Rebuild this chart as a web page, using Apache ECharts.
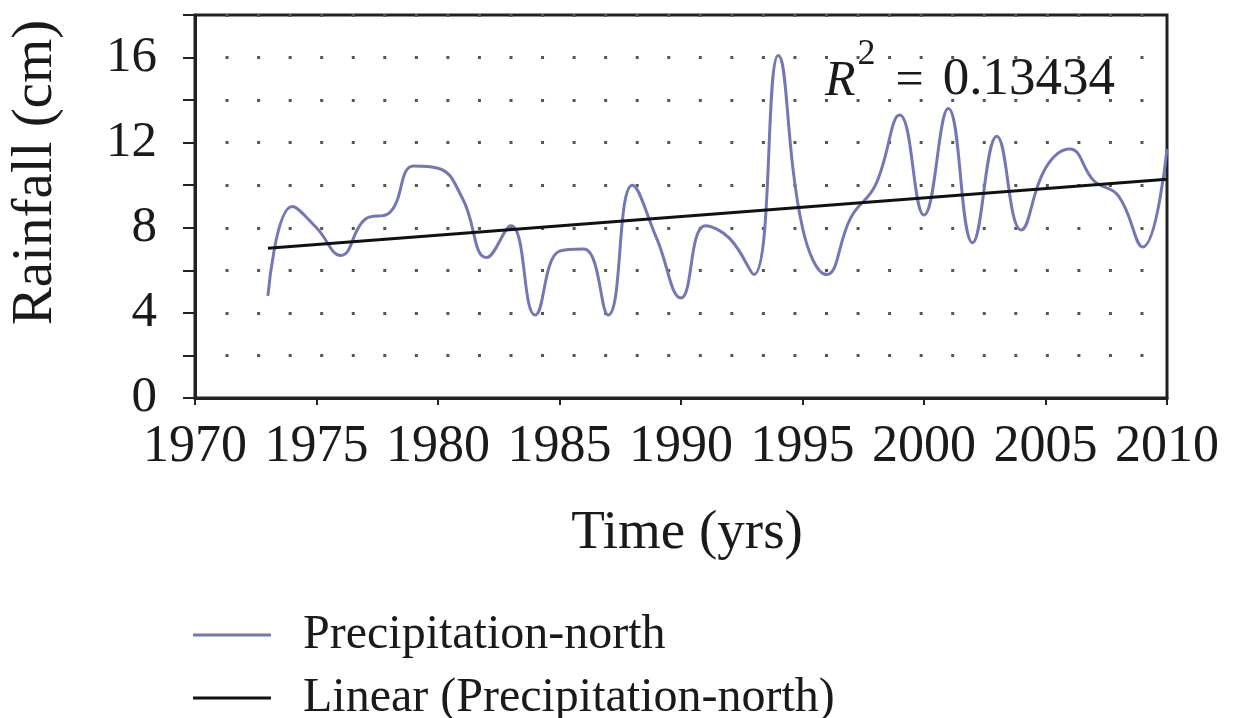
<!DOCTYPE html>
<html>
<head>
<meta charset="utf-8">
<script src="https://cdn.jsdelivr.net/npm/echarts@6/dist/echarts.min.js"></script>
<style>
html,body{margin:0;padding:0;background:#fff;}
#chart{width:1252px;height:718px;}
</style>
</head>
<body>
<div id="chart"></div>
<script>
// Data
var years = [1973,1974,1975,1976,1977,1978,1979,1980,1981,1982,1983,1984,1985,1986,1987,1988,1989,1990,1991,1992,1993,1994,1995,1996,1997,1998,1999,2000,2001,2002,2003,2004,2005,2006,2007,2008,2009,2010];
var rainfallNorth = [4.8,9.0,8.0,6.7,8.4,8.7,10.9,10.8,9.4,6.6,8.1,3.9,6.9,7.0,3.9,10.0,7.5,4.7,8.1,7.5,5.8,16.1,8.0,5.8,8.5,10.0,13.3,8.6,13.6,7.3,12.3,7.9,10.8,11.7,10.2,9.5,7.1,11.7];
var xTicks = [1970,1975,1980,1985,1990,1995,2000,2005,2010];
var yTicks = [0,4,8,12,16];
var seriesNames = ['Precipitation-north','Linear (Precipitation-north)'];
var r2Text = '0.13434';

// least-squares trend line computed from the data
var n = years.length, sx = 0, sy = 0, sxx = 0, sxy = 0;
for (var i = 0; i < n; i++) { sx += years[i]; sy += rainfallNorth[i]; sxx += years[i]*years[i]; sxy += years[i]*rainfallNorth[i]; }
var slope = (n*sxy - sx*sy) / (n*sxx - sx*sx);
var intercept = (sy - slope*sx) / n;
var trendData = [years[0], years[n-1]].map(function (x) { return [x, intercept + slope*x]; });
var lineData = years.map(function (y, i) { return [y, rainfallNorth[i]]; });

var FONT = 'Liberation Serif';
var TXT = '#1a1a1a';
var chart = echarts.init(document.getElementById('chart'));
chart.setOption({
  backgroundColor: '#ffffff',
  animation: false,
  textStyle: { fontFamily: FONT, color: TXT },
  grid: { left: 193, right: 85, top: 15, bottom: 320, show: true, borderColor: '#222', borderWidth: 3 },
  xAxis: {
    type: 'value', min: xTicks[0], max: xTicks[xTicks.length-1], interval: 5,
    name: 'Time (yrs)', nameLocation: 'middle', nameGap: 108,
    nameTextStyle: { fontFamily: FONT, fontSize: 55, color: TXT, padding: [0, 0, 0, 12] },
    axisLine: { show: true, lineStyle: { color: '#222', width: 3 } },
    axisTick: { show: true, inside: false, length: 7, lineStyle: { color: '#222', width: 2 } },
    axisLabel: { fontFamily: FONT, fontSize: 52, color: TXT, margin: 23,
      formatter: function (v) { return xTicks.indexOf(v) >= 0 ? String(v) : ''; } },
    splitLine: { show: false }
  },
  yAxis: {
    type: 'value', min: 0, max: 18, interval: 2,
    name: 'Rainfall (cm)', nameLocation: 'middle', nameGap: 130,
    nameTextStyle: { fontFamily: FONT, fontSize: 57, color: TXT, padding: [0, 0, 0, 68] },
    axisLine: { show: true, lineStyle: { color: '#222', width: 3 } },
    axisTick: { show: true, inside: false, length: 12, lineStyle: { color: '#222', width: 2 } },
    axisLabel: { fontFamily: FONT, fontSize: 51, color: TXT, margin: 38,
      formatter: function (v) { return yTicks.indexOf(v) >= 0 ? String(v) : ''; } },
    splitLine: { show: true, lineStyle: { color: '#555', width: 3, type: [3, 28.55], dashOffset: 1 } }
  },
  legend: {
    orient: 'vertical', left: 193, top: 610, height: 200, padding: 0, itemGap: 13,
    icon: 'rect', itemWidth: 78, itemHeight: 3,
    textStyle: { fontFamily: FONT, fontSize: 48, lineHeight: 50, color: TXT, padding: [0, 0, 0, 27] },
    data: seriesNames
  },
  graphic: [{
    type: 'text', left: 825, top: 37, z: 100,
    style: {
      text: '{r|R}{s|2}{e|=}{n|' + r2Text + '}',
      rich: {
        r: { fontFamily: FONT, fontStyle: 'italic', fontSize: 50, lineHeight: 70, verticalAlign: 'bottom', fill: TXT },
        s: { fontFamily: FONT, fontSize: 36, lineHeight: 36, verticalAlign: 'top', fill: TXT, padding: [0, 0, 0, 2] },
        e: { fontFamily: FONT, fontSize: 50, lineHeight: 70, verticalAlign: 'bottom', fill: TXT, padding: [0, 19, 0, 20] },
        n: { fontFamily: FONT, fontSize: 53, lineHeight: 70, verticalAlign: 'bottom', fill: TXT }
      }
    }
  }],
  series: [
    { name: seriesNames[0], type: 'line', data: lineData, smooth: 0.45, showSymbol: false,
      itemStyle: { color: '#7377b6' }, lineStyle: { color: '#7377b6', width: 3 }, z: 3 },
    { name: seriesNames[1], type: 'line', data: trendData, showSymbol: false,
      itemStyle: { color: '#111' }, lineStyle: { color: '#111', width: 3 }, z: 4 }
  ]
});
</script>
</body>
</html>
